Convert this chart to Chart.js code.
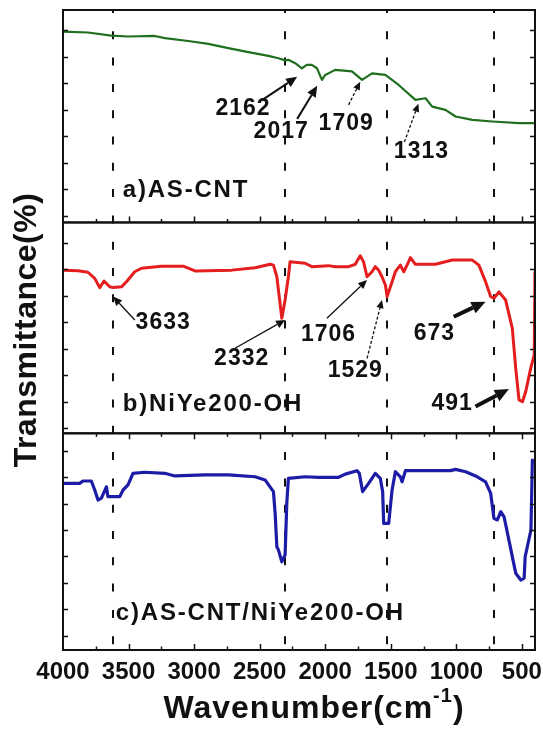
<!DOCTYPE html>
<html>
<head>
<meta charset="utf-8">
<script src="https://cdn.jsdelivr.net/npm/chart.js@4.4.1/dist/chart.umd.min.js"></script>
<style>
  html, body { margin: 0; padding: 0; background: #fff; }
  canvas { display: block; }
</style>
</head>
<body>
<canvas id="ftirChart" width="543" height="731"></canvas>
<script>
// a) AS-CNT
const waveA = [4000, 3810, 3631, 3504, 3300, 3223, 3045, 2892, 2739, 2586, 2433, 2357, 2306, 2281, 2229, 2178, 2140, 2102, 2063, 2025, 2000, 1924, 1796, 1719, 1643, 1541, 1440, 1312, 1235, 1184, 1083, 1006, 878, 726, 522, 400];
const transA = [69.5, 69.2, 68.0, 67.7, 67.9, 67.1, 66.0, 64.9, 63.3, 61.8, 60.4, 59.5, 58.7, 58.9, 57.6, 55.7, 57.0, 57.0, 55.7, 51.3, 53.2, 55.1, 54.5, 51.3, 53.8, 53.2, 49.4, 43.8, 44.4, 41.2, 40.0, 37.5, 36.2, 35.6, 35.0, 35.0];

// b) NiYe200-OH
const waveB = [4000, 3886, 3810, 3758, 3720, 3687, 3644, 3618, 3554, 3516, 3453, 3401, 3249, 3083, 2994, 2713, 2535, 2420, 2395, 2369, 2331, 2306, 2281, 2268, 2153, 2102, 1975, 1924, 1822, 1771, 1733, 1708, 1681, 1643, 1618, 1593, 1567, 1541, 1528, 1516, 1490, 1465, 1427, 1401, 1376, 1350, 1312, 1159, 1031, 878, 828, 777, 738, 713, 675, 624, 573, 547, 522, 496, 471, 433, 406, 400];
const transB = [59.7, 59.5, 58.9, 56.6, 53.1, 55.6, 53.4, 53.1, 53.4, 55.3, 59.1, 60.4, 61.2, 61.2, 59.4, 59.7, 60.6, 61.9, 61.6, 57.2, 41.5, 48.4, 57.2, 62.9, 62.3, 61.0, 61.4, 61.0, 61.0, 61.9, 65.1, 62.9, 57.2, 59.1, 61.0, 59.7, 57.2, 54.1, 49.7, 51.5, 55.3, 59.1, 61.6, 59.1, 61.6, 64.4, 61.9, 61.9, 63.5, 63.5, 61.6, 55.3, 49.7, 49.1, 51.5, 48.4, 37.7, 22.6, 10.7, 10.0, 13.8, 22.6, 27.7, 59.0];

// c) AS-CNT/NiYe200-OH
const waveC = [4000, 3873, 3848, 3784, 3758, 3733, 3707, 3669, 3657, 3567, 3542, 3504, 3466, 3376, 3223, 3147, 2917, 2739, 2535, 2459, 2395, 2382, 2369, 2357, 2331, 2306, 2293, 2281, 2153, 2051, 1898, 1847, 1758, 1740, 1715, 1669, 1618, 1580, 1562, 1554, 1516, 1503, 1490, 1465, 1427, 1414, 1388, 1044, 1006, 929, 853, 777, 738, 713, 687, 661, 636, 610, 547, 508, 483, 475, 431, 420];
const transC = [57.6, 57.6, 58.5, 58.5, 55.1, 51.3, 52.0, 56.3, 52.6, 52.6, 55.1, 57.0, 61.4, 61.8, 61.4, 60.4, 60.8, 60.8, 60.1, 58.9, 54.5, 46.3, 33.7, 32.5, 28.0, 30.6, 50.2, 59.5, 60.1, 59.9, 59.9, 61.1, 62.4, 61.4, 54.5, 57.6, 61.4, 59.5, 54.5, 42.5, 42.5, 48.8, 55.1, 62.0, 60.1, 58.2, 62.4, 62.4, 62.9, 62.0, 60.4, 58.2, 53.8, 44.4, 43.8, 46.9, 45.0, 38.8, 23.7, 21.1, 21.8, 29.9, 40.0, 66.4];

const xTickLabels = [4000, 3500, 3000, 2500, 2000, 1500, 1000, 500];
const markerWaves = [3620, 2306, 1529, 714];

// peak labels, placed in each panel's own data units
const peakNotes = [
  {axis: 'ya', text: '2162', at: [2627, 40.4], tail: [2485, 43.6], head: [2214, 52.5], arrow: 'solid'},
  {axis: 'ya', text: '2017', at: [2336, 31.7], tail: [2214, 36.6], head: [2061, 49.1], arrow: 'solid'},
  {axis: 'ya', text: '1709', at: [1840, 34.7], tail: [1822, 41.9], head: [1733, 50.6], arrow: 'dashed'},
  {axis: 'ya', text: '1313', at: [1266, 24.2], tail: [1396, 27.9], head: [1289, 42.3], arrow: 'dashed'},
  {axis: 'yb', text: '3633', at: [3236, 39.9], tail: [3452, 40.9], head: [3618, 49.7], arrow: 'thin'},
  {axis: 'yb', text: '2332', at: [2637, 26.2], tail: [2688, 30.2], head: [2306, 40.9], arrow: 'thin'},
  {axis: 'yb', text: '1706', at: [1975, 35.2], tail: [1987, 41.5], head: [1681, 56.0], arrow: 'thin'},
  {axis: 'yb', text: '1529', at: [1771, 21.6], tail: [1681, 26.4], head: [1567, 48.4], arrow: 'dashed'},
  {axis: 'yb', text: '673', at: [1167, 35.6], tail: [1020, 42.1], head: [777, 47.8], arrow: 'bold'},
  {axis: 'yb', text: '491', at: [1032, 9.2], tail: [854, 8.2], head: [599, 14.8], arrow: 'bold'}
];
const panelNames = [
  {axis: 'ya', text: 'a)AS-CNT', at: [3544, 7.2]},
  {axis: 'yb', text: 'b)NiYe200-OH', at: [3544, 6.5]},
  {axis: 'yc', text: 'c)AS-CNT/NiYe200-OH', at: [3597, 6.0]}
];

const arrowStyles = {
  solid: {width: 2, head: 11},
  thin: {width: 1.3, head: 9},
  dashed: {width: 1.3, head: 8, dash: [3, 2]},
  bold: {width: 4, head: 14}
};

const FONT = '"Liberation Sans", Arial, sans-serif';
const INK = '#111';

const toPoints = (xs, ys) => xs.map((x, i) => ({x: x, y: ys[i]}));

function drawArrow(ctx, x1, y1, x2, y2, st) {
  const ang = Math.atan2(y2 - y1, x2 - x1);
  const hw = st.head * 0.45;
  const bx = x2 - Math.cos(ang) * st.head;
  const by = y2 - Math.sin(ang) * st.head;
  ctx.lineWidth = st.width;
  ctx.setLineDash(st.dash || []);
  ctx.beginPath();
  ctx.moveTo(x1, y1);
  ctx.lineTo(bx, by);
  ctx.stroke();
  ctx.setLineDash([]);
  ctx.beginPath();
  ctx.moveTo(x2, y2);
  ctx.lineTo(bx + Math.sin(ang) * hw, by - Math.cos(ang) * hw);
  ctx.lineTo(bx - Math.sin(ang) * hw, by + Math.cos(ang) * hw);
  ctx.closePath();
  ctx.fill();
}

const panelDecor = {
  id: 'panelDecor',
  beforeDatasetsDraw(chart) {
    const {ctx, chartArea: a, scales} = chart;
    ctx.save();
    ctx.strokeStyle = INK;
    ctx.lineWidth = 2;
    ctx.setLineDash([8, 18.3]);
    ctx.lineDashOffset = 5;
    markerWaves.forEach(w => {
      const px = Math.round(scales.x.getPixelForValue(w));
      ctx.beginPath();
      ctx.moveTo(px, a.top);
      ctx.lineTo(px, a.bottom);
      ctx.stroke();
    });
    ctx.restore();
  },
  afterDatasetsDraw(chart) {
    const {ctx, chartArea: a, scales} = chart;
    const x = scales.x;
    ctx.save();
    ctx.strokeStyle = INK;
    ctx.fillStyle = INK;

    // frames and inward ticks
    ['ya', 'yb', 'yc'].forEach(id => {
      const y = scales[id];
      ctx.lineWidth = 2;
      ctx.strokeRect(a.left, y.top, a.right - a.left, y.bottom - y.top);
      ctx.lineWidth = 1.5;
      y.ticks.forEach(t => {
        const py = Math.round(y.getPixelForValue(t.value)) + 0.5;
        ctx.beginPath();
        ctx.moveTo(a.left, py); ctx.lineTo(a.left + 5, py);
        ctx.moveTo(a.right, py); ctx.lineTo(a.right - 5, py);
        ctx.stroke();
      });
    });
    const xEdges = [[scales.ya.bottom, -1], [scales.yc.top, 1], [scales.yc.bottom, -1]];
    x.ticks.forEach(t => {
      if (t.value <= x.min || t.value >= x.max) return;
      const px = Math.round(x.getPixelForValue(t.value)) + 0.5;
      const len = t.value % 500 === 0 ? 6 : 3.5;
      xEdges.forEach(([edge, dir]) => {
        ctx.beginPath();
        ctx.moveTo(px, edge);
        ctx.lineTo(px, edge + dir * len);
        ctx.stroke();
      });
    });

    // peak labels with arrows
    ctx.letterSpacing = '1px';
    ctx.font = 'bold 23px ' + FONT;
    ctx.textAlign = 'center';
    ctx.textBaseline = 'middle';
    peakNotes.forEach(n => {
      const y = scales[n.axis];
      ctx.fillText(n.text, x.getPixelForValue(n.at[0]), y.getPixelForValue(n.at[1]));
      drawArrow(ctx,
        x.getPixelForValue(n.tail[0]), y.getPixelForValue(n.tail[1]),
        x.getPixelForValue(n.head[0]), y.getPixelForValue(n.head[1]),
        arrowStyles[n.arrow]);
    });

    // panel names
    ctx.letterSpacing = '1.8px';
    ctx.font = 'bold 24px ' + FONT;
    ctx.textAlign = 'left';
    ctx.textBaseline = 'alphabetic';
    panelNames.forEach(p => {
      const y = scales[p.axis];
      ctx.fillText(p.text, x.getPixelForValue(p.at[0]), y.getPixelForValue(p.at[1]));
    });

    // axis titles
    ctx.letterSpacing = '0.5px';
    ctx.font = 'bold 32px ' + FONT;
    ctx.textAlign = 'center';
    ctx.textBaseline = 'middle';
    ctx.save();
    ctx.translate(27, (a.top + a.bottom) / 2);
    ctx.rotate(-Math.PI / 2);
    ctx.fillText('Transmittance(%)', 0, 0);
    ctx.restore();

    ctx.letterSpacing = '1px';
    ctx.textAlign = 'left';
    ctx.textBaseline = 'alphabetic';
    const mainFont = 'bold 32px ' + FONT;
    const supFont = 'bold 20px ' + FONT;
    ctx.font = mainFont;
    const w1 = ctx.measureText('Wavenumber(cm').width;
    const w3 = ctx.measureText(')').width;
    ctx.font = supFont;
    const w2 = ctx.measureText('-1').width;
    let tx = 314 - (w1 + w2 + w3) / 2;
    const base = 718;
    ctx.font = mainFont;
    ctx.fillText('Wavenumber(cm', tx, base);
    tx += w1;
    ctx.font = supFont;
    ctx.fillText('-1', tx, base - 16);
    tx += w2;
    ctx.font = mainFont;
    ctx.fillText(')', tx, base);
    ctx.restore();
  }
};

const panelAxis = (min, max, weight, order) => ({
  type: 'linear',
  position: 'left',
  stack: 'panels',
  stackWeight: weight,
  weight: order,
  min: min,
  max: max,
  offset: false,
  ticks: {display: false, stepSize: 10, includeBounds: false},
  grid: {display: false, drawTicks: false},
  border: {display: false},
  afterFit: s => { s.width = 0; }
});

new Chart(document.getElementById('ftirChart'), {
  type: 'line',
  data: {
    datasets: [
      {label: 'a)AS-CNT', data: toPoints(waveA, transA), yAxisID: 'ya', borderColor: '#1f6f1f', borderWidth: 2.2},
      {label: 'b)NiYe200-OH', data: toPoints(waveB, transB), yAxisID: 'yb', borderColor: '#e41e1e', borderWidth: 3},
      {label: 'c)AS-CNT/NiYe200-OH', data: toPoints(waveC, transC), yAxisID: 'yc', borderColor: '#1c1ca6', borderWidth: 3.2}
    ]
  },
  options: {
    responsive: false,
    animation: false,
    devicePixelRatio: 1,
    layout: {padding: {left: 63, right: 8, top: 10, bottom: 0}},
    elements: {
      line: {tension: 0, borderJoinStyle: 'round', borderCapStyle: 'round'},
      point: {radius: 0, hoverRadius: 0}
    },
    plugins: {legend: {display: false}, tooltip: {enabled: false}},
    scales: {
      x: {
        type: 'linear',
        position: 'bottom',
        reverse: true,
        min: 400,
        max: 4000,
        ticks: {
          stepSize: 250,
          includeBounds: false,
          autoSkip: false,
          maxRotation: 0,
          padding: 8,
          color: INK,
          font: {family: FONT, size: 24, weight: 'bold'},
          callback: v => xTickLabels.includes(v) ? String(v) : ''
        },
        grid: {display: false, drawTicks: false},
        border: {display: false},
        afterFit: s => {
          s.height = 81;
          s.paddingLeft = 0;
          s.paddingRight = 0;
        }
      },
      ya: panelAxis(-2.5, 77.7, 80.2, 3),
      yb: panelAxis(-1.9, 77.7, 79.6, 2),
      yc: panelAxis(-5.3, 76.5, 81.8, 1)
    }
  },
  plugins: [panelDecor]
});
</script>
</body>
</html>
